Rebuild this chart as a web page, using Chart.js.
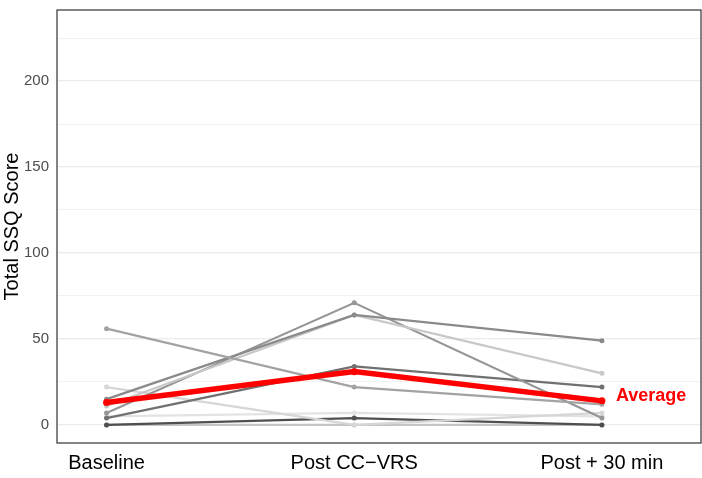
<!DOCTYPE html>
<html>
<head>
<meta charset="utf-8">
<script src="https://cdn.jsdelivr.net/npm/chart.js@4"></script>
<style>
  html, body { margin: 0; padding: 0; background: #fff; overflow: hidden; }
  #wrap { width: 705px; height: 478px; }
</style>
</head>
<body>
<div id="wrap"><canvas id="grafico"></canvas></div>
<script>
// momentos da medida
const momentos = ['Baseline', 'Post CC\u2212VRS', 'Post + 30 min'];
// escores individuais
const participantes = [
    [56, 22, 12],
    [15, 64, 49],
    [11, 64, 30],
    [7, 71, 4],
    [4, 34, 22],
    [22, 0, 7],
    [0, 4, 0],
    [5, 7, 5],
    [0, 0, 0]
];
const coresCinza = ['#a3a3a3', '#8a8a8a', '#c8c8c8', '#969696', '#707070', '#d6d6d6', '#4f4f4f', '#e3e3e3', '#c4c4c4'];
const media = [13, 31, 14];
const ticksY = [0, 25, 50, 75, 100, 125, 150, 175, 200, 225];

const fonte = 'Liberation Sans, Arial, Helvetica, sans-serif';

// rótulo "Average" e moldura do painel
const extras = {
    id: 'extras',
    afterDatasetsDraw(chart) {
        const ctx = chart.ctx;
        const a = chart.chartArea;
        ctx.save();
        ctx.strokeStyle = '#333333';
        ctx.lineWidth = 1.2;
        ctx.strokeRect(a.left, a.top, a.right - a.left, a.bottom - a.top);
        const x = chart.scales.x.getPixelForValue(3);
        const y = chart.scales.y.getPixelForValue(media[2]);
        ctx.fillStyle = '#ff0000';
        ctx.font = 'bold 18px ' + fonte;
        ctx.textBaseline = 'middle';
        ctx.textAlign = 'left';
        ctx.fillText('Average', x + 14, y - 5);
        ctx.restore();
    }
};

const datasets = [{
    label: 'Average',
    data: media.map((v, i) => ({ x: i + 1, y: v })),
    borderColor: '#ff0000',
    backgroundColor: '#ff0000',
    borderWidth: 5.5,
    pointRadius: 3.5,
    pointBorderWidth: 0,
    order: 0
}];
participantes.forEach((p, k) => {
    datasets.push({
        label: 'P' + (k + 1),
        data: p.map((v, i) => ({ x: i + 1, y: v })),
        borderColor: coresCinza[k],
        backgroundColor: coresCinza[k],
        borderWidth: 2.2,
        pointRadius: 2.5,
        pointBorderWidth: 0,
        order: 1
    });
});

new Chart(document.getElementById('grafico'), {
    type: 'line',
    data: { datasets: datasets },
    plugins: [extras],
    options: {
        responsive: true,
        maintainAspectRatio: false,
        animation: false,
        layout: { padding: { top: 10, right: 1, left: 0, bottom: 0 } },
        plugins: { legend: { display: false }, tooltip: { enabled: false } },
        scales: {
            x: {
                type: 'linear',
                min: 0.8,
                max: 3.4,
                afterBuildTicks: s => { s.ticks = [1, 2, 3].map(v => ({ value: v })); },
                afterFit: s => { s.height = 35; s.paddingLeft = 0; s.paddingRight = 0; },
                grid: { display: false, drawTicks: false },
                border: { display: false },
                ticks: {
                    padding: 8,
                    color: '#000000',
                    font: { family: fonte, size: 20 },
                    callback: v => momentos[v - 1]
                }
            },
            y: {
                type: 'linear',
                min: -10.5,
                max: 241.3,
                afterBuildTicks: s => { s.ticks = ticksY.map(v => ({ value: v })); },
                afterFit: s => { s.width = 57; s.paddingTop = 0; s.paddingBottom = 0; },
                grid: {
                    drawTicks: false,
                    color: '#ebebeb',
                    lineWidth: c => (c.tick && c.tick.value % 50 === 0) ? 1.2 : 0.7
                },
                border: { display: false },
                title: {
                    display: true,
                    text: 'Total SSQ Score',
                    color: '#000000',
                    padding: 0,
                    font: { family: fonte, size: 20 }
                },
                ticks: {
                    padding: 8,
                    color: '#4d4d4d',
                    font: { family: fonte, size: 15 },
                    callback: v => (v % 50 === 0 ? String(v) : '')
                }
            }
        }
    }
});
</script>
</body>
</html>
